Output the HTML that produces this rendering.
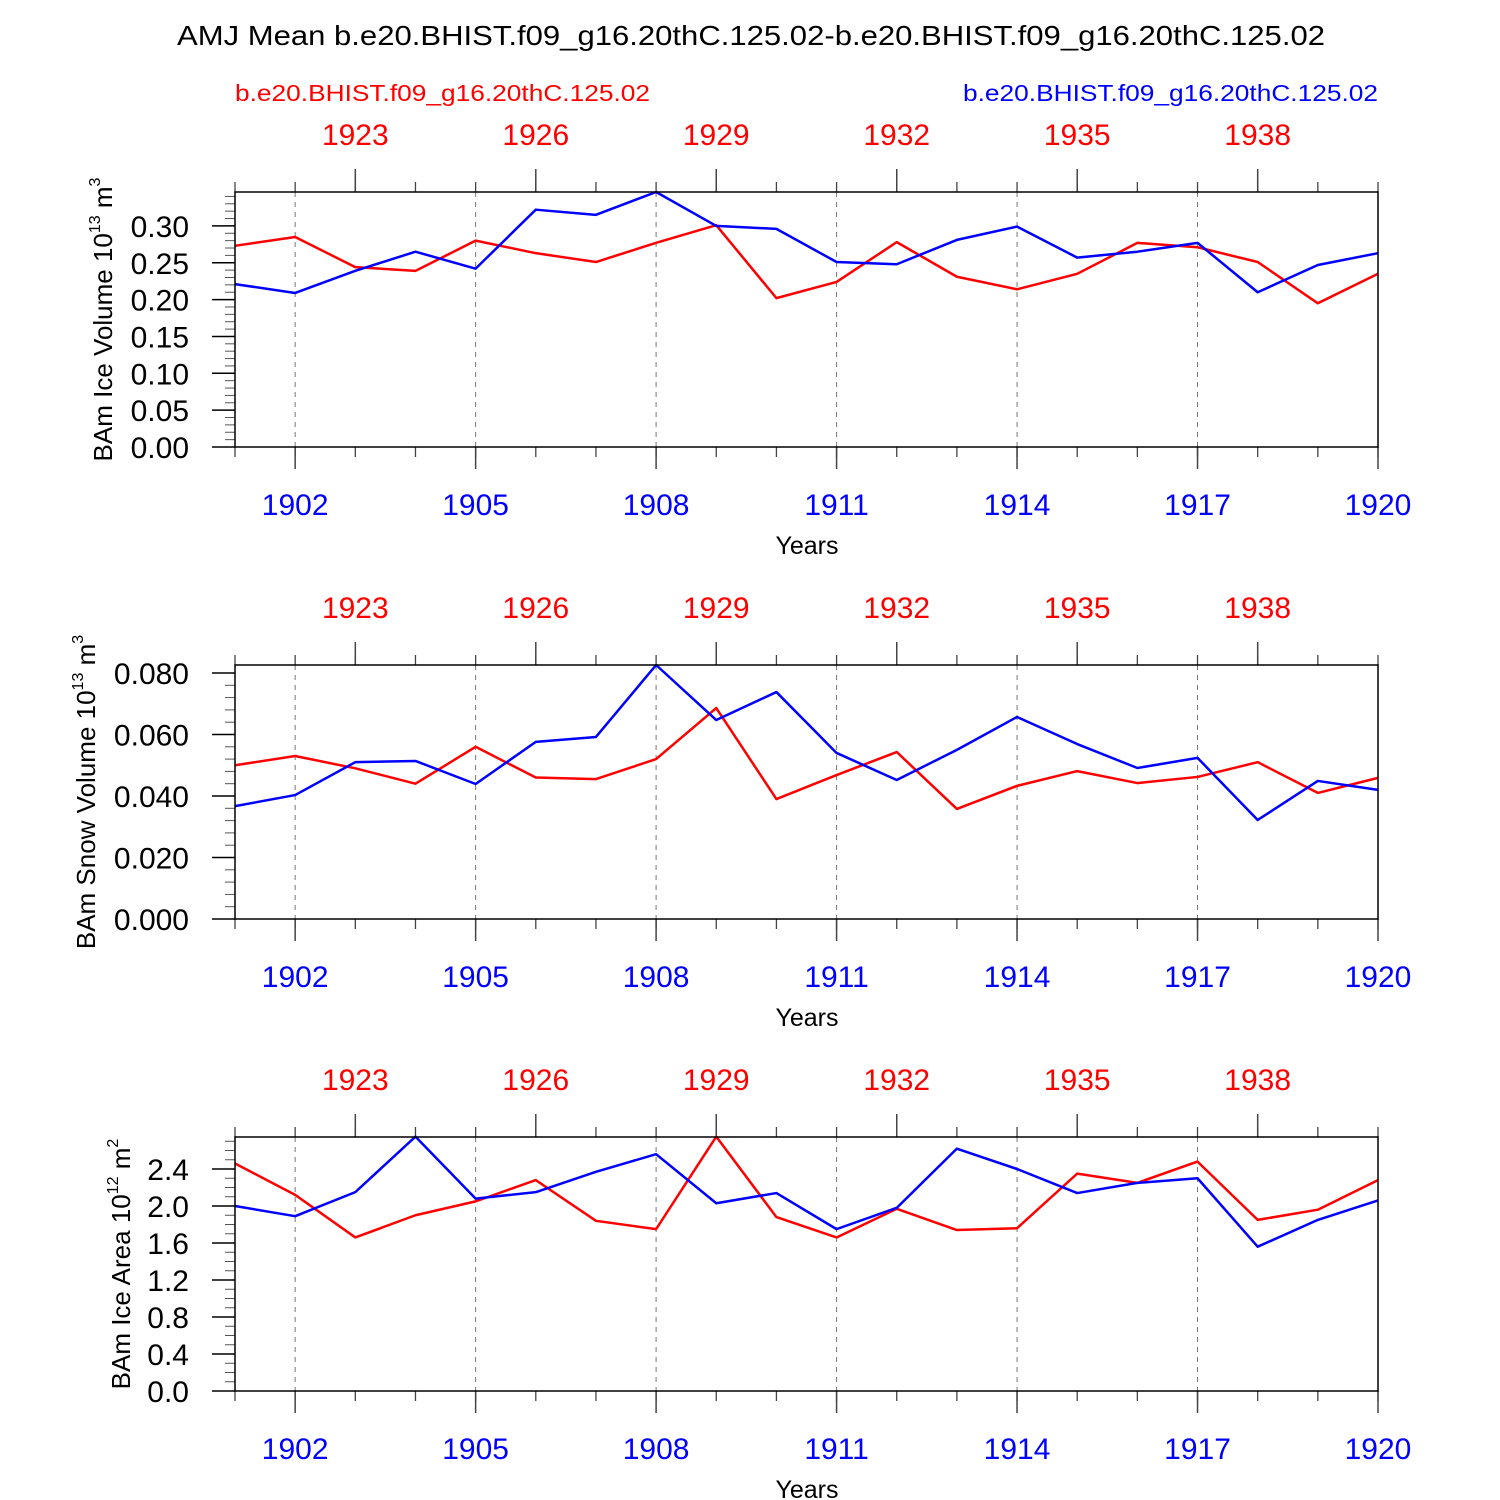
<!DOCTYPE html>
<html><head><meta charset="utf-8"><style>
body{margin:0;background:#fff}
svg{display:block;font-family:"Liberation Sans",Arial,sans-serif}
</style></head><body>
<svg id="chart" width="1500" height="1500" viewBox="0 0 1500 1500" xmlns="http://www.w3.org/2000/svg">
<rect width="1500" height="1500" fill="#fff"/>
<text x="177" y="45" font-size="28" textLength="1148" lengthAdjust="spacingAndGlyphs">AMJ Mean b.e20.BHIST.f09_g16.20thC.125.02-b.e20.BHIST.f09_g16.20thC.125.02</text>
<text x="235" y="101" font-size="23" fill="#f00" textLength="415" lengthAdjust="spacingAndGlyphs">b.e20.BHIST.f09_g16.20thC.125.02</text>
<text x="963" y="101" font-size="23" fill="#00f" textLength="415" lengthAdjust="spacingAndGlyphs">b.e20.BHIST.f09_g16.20thC.125.02</text>
</svg>
<script>
const years = [1901,1902,1903,1904,1905,1906,1907,1908,1909,1910,1911,1912,1913,1914,1915,1916,1917,1918,1919,1920];
const iceVolRed = [0.273,0.285,0.244,0.239,0.280,0.263,0.251,0.277,0.301,0.202,0.224,0.278,0.231,0.214,0.235,0.277,0.271,0.251,0.195,0.235];
const iceVolBlue = [0.221,0.209,0.239,0.265,0.242,0.322,0.315,0.346,0.300,0.296,0.251,0.248,0.281,0.299,0.257,0.265,0.277,0.210,0.247,0.263];
const snowRed = [0.050,0.053,0.049,0.044,0.056,0.046,0.0455,0.052,0.0686,0.039,0.0468,0.0543,0.0358,0.0433,0.0481,0.0442,0.0462,0.051,0.041,0.0459];
const snowBlue = [0.0367,0.0403,0.051,0.0514,0.0439,0.0576,0.0592,0.0826,0.0647,0.0738,0.054,0.0452,0.055,0.0657,0.0569,0.0491,0.0524,0.0322,0.0449,0.042];
const areaRed = [2.46,2.12,1.66,1.90,2.05,2.28,1.84,1.75,2.75,1.88,1.66,1.97,1.74,1.76,2.35,2.25,2.48,1.85,1.96,2.28];
const areaBlue = [2.00,1.89,2.15,2.75,2.08,2.15,2.37,2.56,2.03,2.14,1.75,1.98,2.62,2.40,2.14,2.25,2.30,1.56,1.85,2.06];
const bottomTicks = [1902,1905,1908,1911,1914,1917,1920];
const topTicks = [1903,1906,1909,1912,1915,1918];
const topOffset = 20;
const iceVolTicks = [0.00,0.05,0.10,0.15,0.20,0.25,0.30];
const snowTicks = [0.000,0.020,0.040,0.060,0.080];
const areaTicks = [0.0,0.4,0.8,1.2,1.6,2.0,2.4];

const NS="http://www.w3.org/2000/svg";
const svg=document.getElementById('chart');
function mk(tag,attrs,parent){const e=document.createElementNS(NS,tag);for(const k in attrs)e.setAttribute(k,attrs[k]);(parent||svg).appendChild(e);return e;}
const X0=235,X1=1378;
function xs(y){return X0+(y-1901)/(1920-1901)*(X1-X0);}

const panels=[
 {name:'ice-volume',top:192,bot:447,ymax:0.346,ticks:iceVolTicks,dec:2,minor:0.01,red:iceVolRed,blue:iceVolBlue,label:'BAm Ice Volume 10',exp:'13',unit:' m',uexp:'3',lx:112},
 {name:'snow-volume',top:665,bot:919,ymax:0.0826,ticks:snowTicks,dec:3,minor:0.004,red:snowRed,blue:snowBlue,label:'BAm Snow Volume 10',exp:'13',unit:' m',uexp:'3',lx:95},
 {name:'ice-area',top:1137,bot:1391,ymax:2.746,ticks:areaTicks,dec:1,minor:0.1,red:areaRed,blue:areaBlue,label:'BAm Ice Area 10',exp:'12',unit:' m',uexp:'2',lx:130}
];
panels.forEach(p=>{
 const g=mk('g',{});
 
 
 const ys=v=>p.bot-v/p.ymax*(p.bot-p.top);
 bottomTicks.forEach(y=>{if(y<1920){const l=mk('line',{x1:xs(y),x2:xs(y),y1:p.top,y2:p.bot,stroke:'#777','stroke-width':1,'stroke-dasharray':'5,5'},g);
  
  }});
 years.forEach(y=>{
  mk('line',{x1:xs(y),x2:xs(y),y1:p.bot,y2:p.bot+10,stroke:'#444','stroke-width':1.3},g);
  mk('line',{x1:xs(y),x2:xs(y),y1:p.top,y2:p.top-10,stroke:'#444','stroke-width':1.3},g);
 });
 bottomTicks.forEach(y=>{
  mk('line',{x1:xs(y),x2:xs(y),y1:p.bot,y2:p.bot+22,stroke:'#444','stroke-width':1.5},g);
  const t=mk('text',{x:xs(y),y:p.bot+68,'font-size':30,'text-anchor':'middle',fill:'#00f'},g);t.textContent=y;
  
  
 });
 topTicks.forEach(y=>{
  mk('line',{x1:xs(y),x2:xs(y),y1:p.top,y2:p.top-23,stroke:'#444','stroke-width':1.5},g);
  const t=mk('text',{x:xs(y),y:p.top-47,'font-size':30,'text-anchor':'middle',fill:'#f00'},g);t.textContent=y+topOffset;
  
  
 });
 for(let v=0;v<=p.ymax+1e-9;v+=p.minor){mk('line',{x1:X0,x2:X0-10,y1:ys(v),y2:ys(v),stroke:'#555','stroke-width':1},g);}
 p.ticks.forEach(v=>{
  mk('line',{x1:X0,x2:X0-23,y1:ys(v),y2:ys(v),stroke:'#000','stroke-width':1.5},g);
  const t=mk('text',{x:X0-46,y:ys(v)+11,'font-size':30,'text-anchor':'end'},g);t.textContent=v.toFixed(p.dec);
  
  
 });
 const xl=mk('text',{x:807,y:p.bot+107,'font-size':25,'text-anchor':'middle'},g);xl.textContent='Years';
 
 
 const cy=(p.top+p.bot)/2;
 const yl=mk('text',{x:p.lx,y:cy,'font-size':26,'text-anchor':'middle',transform:`rotate(-90 ${p.lx} ${cy})`},g);
 
 
 yl.appendChild(document.createTextNode(p.label));
 const s1=mk('tspan',{'font-size':16,dy:-12},yl);s1.textContent=p.exp;
 const s2=mk('tspan',{dy:12},yl);s2.textContent=p.unit;
 const s3=mk('tspan',{'font-size':16,dy:-12},yl);s3.textContent=p.uexp;
 [['red',p.red,'#f00'],['blue',p.blue,'#00f']].forEach(([n,arr,c])=>{
  const pl=mk('polyline',{points:arr.map((v,i)=>xs(years[i])+','+ys(v)).join(' '),fill:'none',stroke:c,'stroke-width':2.5,'stroke-linejoin':'round'},g);
  
  
 });
 const fr=mk('rect',{x:X0,y:p.top,width:X1-X0,height:p.bot-p.top,fill:'none',stroke:'#000','stroke-width':1.5},g);
 
 
});
</script>
</body></html>
